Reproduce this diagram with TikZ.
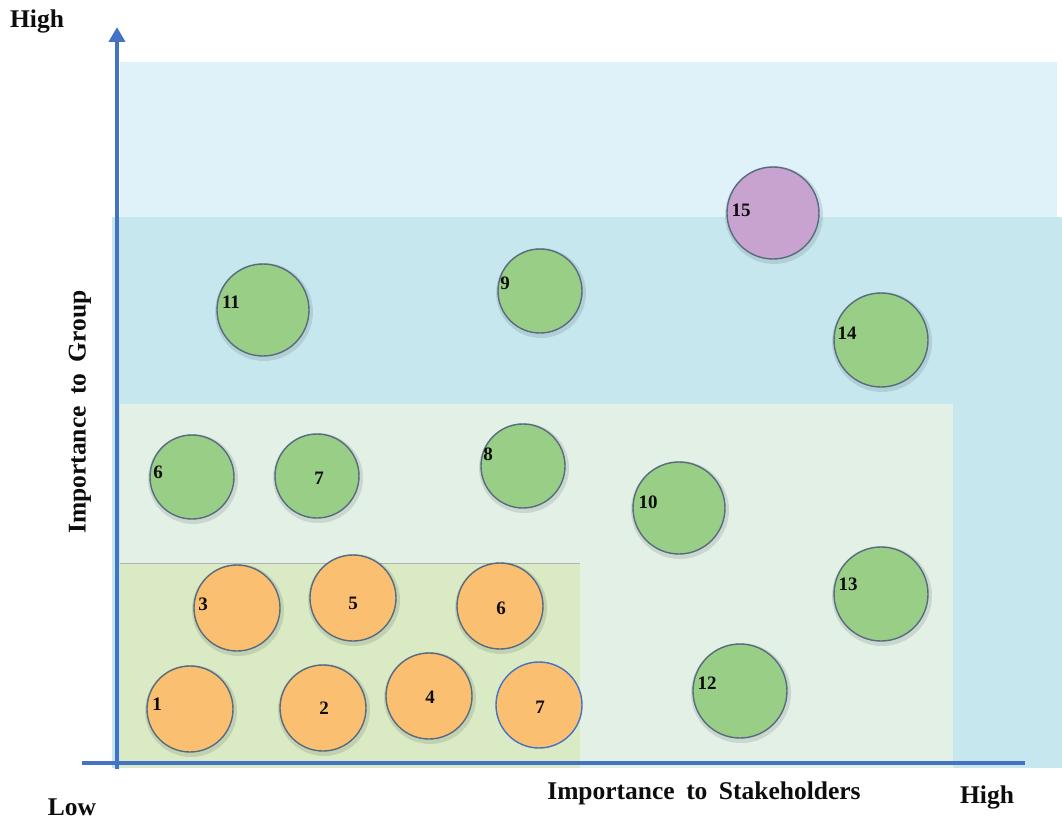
\documentclass[tikz,border=0pt]{standalone}
\usepackage{fontspec}
\setmainfont{Liberation Serif}
\usetikzlibrary{arrows.meta}
\definecolor{axisblue}{RGB}{68,114,196}
\definecolor{topblue}{RGB}{223,241,249}
\definecolor{midblue}{RGB}{199,231,239}
\definecolor{palegreen}{RGB}{226,240,230}
\definecolor{lowgreen}{RGB}{217,234,197}
\definecolor{orangefill}{RGB}{250,191,112}
\definecolor{greenfill}{RGB}{153,206,135}
\definecolor{purplefill}{RGB}{201,163,207}
\definecolor{rimcol}{RGB}{88,108,128}
\tikzset{
  bubble/.style={circle, draw=rimcol, line width=1.4pt, inner sep=0pt, minimum size=#1},
  orangeb/.style={bubble=86pt, fill=orangefill},
  greenb/.style={bubble=#1, fill=greenfill},
  purpleb/.style={bubble=92pt, fill=purplefill},
  halo/.style={circle, fill=black, opacity=0.10, inner sep=0pt, minimum size=#1},
  num/.style={font=\fontsize{19}{19}\selectfont\bfseries, text=black!95, inner sep=0pt},
  axlabel/.style={font=\fontsize{25.5}{25.5}\selectfont\bfseries, text=black!95, inner sep=0pt},
}
\begin{document}
\begin{tikzpicture}[x=1pt,y=-1pt]
\useasboundingbox (0,0) rectangle (1062,821);
\fill[white] (0,0) rectangle (1062,821);
% zones
\fill[topblue] (120,62) rectangle (1057,218);
\fill[midblue] (112,217) rectangle (1062,768);
\fill[palegreen] (120,404) rectangle (953,768);
\fill[lowgreen] (120,563) rectangle (580,768);
\draw[black!30, line width=1pt] (120,563) -- (580,563);
% axes
\coordinate (xs) at (82,763);
\coordinate (xe) at (1025,763);
\coordinate (ys) at (117,769);
\coordinate (ye) at (117,27);
\draw[axisblue, line width=3.5pt] (xs) -- (xe);
\draw[axisblue, line width=4pt, -{Triangle[length=15pt,width=16pt]}] (ys) -- (ye);
% halos (soft shadows)
\foreach \x/\y/\s in {190/709/92,323/708/92,237/608/92,429/696/92,353/598/92,500/606/92,
  192/477/90,317/476/90,523/466/90,540/291/90,679/508/98,263/310/98,740/691/100,881/594/100,881/340/100,773/213/98}
  \node[halo=\s pt] at (\x+1,\y+2) {};
% orange bubbles
\node[orangeb] (o1) at (190,709) {};
\node[orangeb] (o2) at (323,708) {};
\node[orangeb] (o3) at (237,608) {};
\node[orangeb] (o4) at (429,696) {};
\node[orangeb] (o5) at (353,598) {};
\node[orangeb] (o6) at (500,606) {};
\node[orangeb, draw=axisblue] (o7) at (539,705) {};
% green bubbles
\node[greenb=84pt] (g6) at (192,477) {};
\node[greenb=84pt] (g7) at (317,476) {};
\node[greenb=84pt] (g8) at (523,466) {};
\node[greenb=84pt] (g9) at (540,291) {};
\node[greenb=92pt] (g10) at (679,508) {};
\node[greenb=92pt] (g11) at (263,310) {};
\node[greenb=94pt] (g12) at (740,691) {};
\node[greenb=94pt] (g13) at (881,594) {};
\node[greenb=94pt] (g14) at (881,340) {};
\node[purpleb] (p15) at (773,213) {};
% numbers
\node[num] (t1) at (157,704) {1};
\node[num] (t2) at (324,708) {2};
\node[num] (t3) at (203,604) {3};
\node[num] (t4) at (430,697) {4};
\node[num] (t5) at (353,603) {5};
\node[num] (t6) at (501,608) {6};
\node[num] (t7) at (540,707) {7};
\node[num] (u6) at (158,472) {6};
\node[num] (u7) at (319,478) {7};
\node[num] (u8) at (488,454) {8};
\node[num] (u9) at (505,283) {9};
\node[num] (u10) at (648,502) {10};
\node[num] (u11) at (231,302) {11};
\node[num] (u12) at (707,683) {12};
\node[num] (u13) at (848,584) {13};
\node[num] (u14) at (847,333) {14};
\node[num] (u15) at (741,210) {15};
% axis labels
\node[axlabel] (hightop) at (37,21) {High};
\node[axlabel] (low) at (72,807) {Low};
\node[axlabel] (highright) at (987,797) {High};
\node[axlabel] (xlab) at (704,793) {Importance\hspace{0.45em}to\hspace{0.45em}Stakeholders};
\node[axlabel, rotate=90] (ylab) at (80,412) {Importance\hspace{0.45em}to\hspace{0.45em}Group};
\end{tikzpicture}
\end{document}
